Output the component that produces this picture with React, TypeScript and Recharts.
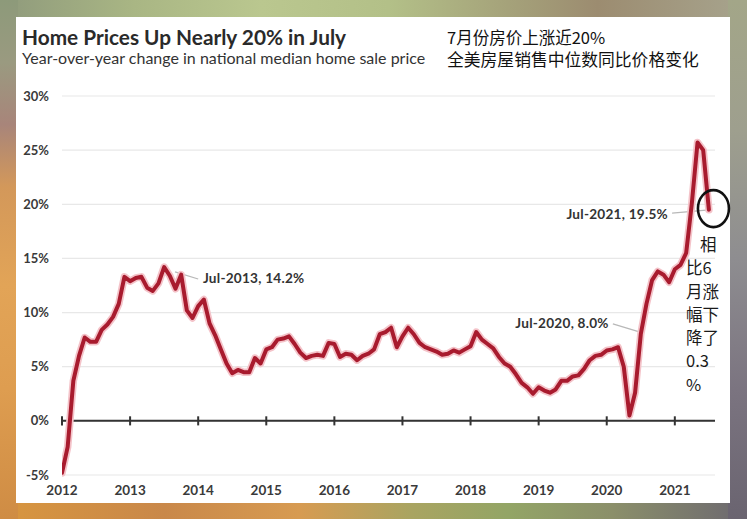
import React from "react";
import {
  LineChart,
  Line,
  XAxis,
  YAxis,
  CartesianGrid,
  ReferenceLine,
  ReferenceDot,
} from "recharts";

// Monthly year-over-year change (%) in national median home sale price
const yoy2012 = [-4.8, -2.4, 3.7, 6.0, 7.7, 7.3, 7.3, 8.4, 8.9, 9.6, 10.8, 13.3];
const yoy2013 = [12.9, 13.2, 13.3, 12.3, 12.0, 12.7, 14.2, 13.4, 12.2, 13.5, 10.2, 9.5];
const yoy2014 = [10.6, 11.2, 9.0, 7.9, 6.6, 5.3, 4.4, 4.7, 4.5, 4.5, 5.8, 5.3];
const yoy2015 = [6.6, 6.8, 7.5, 7.6, 7.8, 7.1, 6.3, 5.8, 6.0, 6.1, 6.0, 7.2];
const yoy2016 = [7.1, 5.9, 6.2, 6.1, 5.6, 6.0, 6.2, 6.6, 8.0, 8.2, 8.6, 6.8];
const yoy2017 = [7.8, 8.6, 8.0, 7.2, 6.8, 6.6, 6.4, 6.1, 6.2, 6.5, 6.3, 6.6];
const yoy2018 = [6.9, 8.2, 7.5, 7.1, 6.7, 5.9, 5.3, 5.0, 4.3, 3.5, 3.1, 2.5];
const yoy2019 = [3.1, 2.8, 2.6, 2.9, 3.7, 3.7, 4.1, 4.2, 4.8, 5.6, 6.0, 6.1];
const yoy2020 = [6.5, 6.6, 6.8, 5.0, 0.5, 2.6, 8.0, 10.8, 13.0, 13.8, 13.5, 12.8];
const yoy2021 = [14.0, 14.4, 15.5, 20.1, 25.7, 25.0, 19.5];

const startYears = [2012, 2013, 2014, 2015, 2016, 2017, 2018, 2019, 2020, 2021];
const yearSeries = [yoy2012, yoy2013, yoy2014, yoy2015, yoy2016, yoy2017, yoy2018, yoy2019, yoy2020, yoy2021];

const yTicks = [-5, 0, 5, 10, 15, 20, 25, 30];
const xTicks = [2012, 2013, 2014, 2015, 2016, 2017, 2018, 2019, 2020, 2021];

const annotations = [
  { label: "Jul-2013, 14.2%", x: 2014.07, y: 13.19, anchor: "start", from: [2013.66, 13.75], to: [2014.0, 13.1] },
  { label: "Jul-2020, 8.0%", x: 2020.03, y: 9.04, anchor: "end", from: [2020.09, 8.95], to: [2020.49, 8.2] },
  { label: "Jul-2021, 19.5%", x: 2020.9, y: 19.1, anchor: "end", from: [2020.96, 19.19], to: [2021.46, 19.46] },
];

const noteLines = ["相", "比6", "月涨", "幅下", "降了", "0.3", "%"];

const data: { t: number; v: number }[] = [];
yearSeries.forEach((arr, yi) => {
  arr.forEach((v, m) => {
    data.push({ t: startYears[yi] + m / 12, v });
  });
});

const FONT = "Lato, 'Noto Sans', sans-serif";
const CJK = "'Noto Sans CJK SC', 'Noto Sans', sans-serif";

export default function App() {
  return (
    <div style={{ position: "fixed", left: 0, top: 0, width: 747, height: 519, overflow: "hidden", background: "#c9a070" }}>
      {/* blurred photo-like border */}
      <div style={{ position: "absolute", left: 0, top: 0, width: 747, height: 20, background: "linear-gradient(90deg, #8f9a7c 0%, #a9b684 18%, #bac78f 35%, #b3c088 52%, #a5a27a 68%, #9c8c70 80%, #a7a48e 100%)" }} />
      <div style={{ position: "absolute", left: 0, top: 500, width: 747, height: 19, background: "linear-gradient(90deg, #d8963f 0%, #c9884a 22%, #d79b52 40%, #a9a461 55%, #93a566 68%, #8b8f6a 82%, #6c6870 100%)" }} />
      <div style={{ position: "absolute", left: 0, top: 0, width: 18, height: 519, background: "linear-gradient(180deg, #8d9a7a 0%, #9a9a80 12%, #a8857a 24%, #d3985a 36%, #e2a457 55%, #de9d50 75%, #cf8c44 100%)" }} />
      <div style={{ position: "absolute", left: 728, top: 0, width: 19, height: 519, background: "linear-gradient(180deg, #a3a688 0%, #9e9f8e 25%, #8e8d90 50%, #7b7480 75%, #6a6470 100%)" }} />
      {/* white panel */}
      <div style={{ position: "absolute", left: 16, top: 17, width: 714, height: 486, background: "#ffffff" }} />

      <div style={{ position: "absolute", left: 0, top: 0 }}>
        <LineChart width={747} height={519} data={data} margin={{ top: 96, right: 32, bottom: 14, left: 12 }}>
          <CartesianGrid horizontal={true} vertical={false} stroke="#e8e8e8" strokeWidth={1.2} />
          <XAxis
            dataKey="t"
            type="number"
            domain={[2012, 2021.59]}
            ticks={xTicks}
            allowDataOverflow
            axisLine={false}
            tickLine={false}
            tickSize={0}
            tickMargin={10}
            height={30}
            tick={{ fill: "#3a3a3a", fontSize: 13.5, fontWeight: 700, fontFamily: FONT }}
          />
          <YAxis
            type="number"
            domain={[-5, 30]}
            ticks={yTicks}
            width={50}
            axisLine={false}
            tickLine={false}
            tickSize={0}
            tickMargin={13}
            tickFormatter={(v: number) => `${v}%`}
            tick={{ fill: "#3a3a3a", fontSize: 13, fontWeight: 700, fontFamily: FONT }}
          />
          <ReferenceLine y={0} stroke="#333333" strokeWidth={2} />
          {xTicks.map((yr) => (
            <ReferenceLine
              key={"tick" + yr}
              segment={[{ x: yr, y: -0.42 }, { x: yr, y: 0.42 }]}
              stroke="#333333"
              strokeWidth={2}
              ifOverflow="visible"
            />
          ))}
          {annotations.map((a) => (
            <ReferenceLine
              key={"lead" + a.label}
              segment={[{ x: a.from[0], y: a.from[1] }, { x: a.to[0], y: a.to[1] }]}
              stroke="#b8b8b8"
              strokeWidth={1.3}
              ifOverflow="visible"
            />
          ))}
          <Line
            type="linear"
            dataKey="v"
            stroke="#f4c3c9"
            strokeWidth={7.5}
            dot={false}
            activeDot={false}
            isAnimationActive={false}
            strokeLinejoin="round"
            strokeLinecap="round"
          />
          <Line
            type="linear"
            dataKey="v"
            stroke="#a81b2e"
            strokeWidth={4}
            dot={false}
            activeDot={false}
            isAnimationActive={false}
            strokeLinejoin="round"
            strokeLinecap="round"
          />
          {annotations.map((a) => (
            <ReferenceDot
              key={"txt" + a.label}
              x={a.x}
              y={a.y}
              r={0}
              ifOverflow="visible"
              shape={(p: any) => (
                <text
                  x={p.cx}
                  y={p.cy}
                  textAnchor={a.anchor as any}
                  dominantBaseline="central"
                  fill="#333333"
                  fontSize={13.6}
                  fontWeight={700}
                  fontFamily={FONT}
                  letterSpacing={0.25}
                >
                  {a.label}
                </text>
              )}
            />
          ))}
          <ReferenceDot
            x={2021.567}
            y={19.6}
            r={0}
            ifOverflow="visible"
            shape={(p: any) => (
              <ellipse cx={p.cx} cy={p.cy} rx={15.5} ry={18.5} fill="none" stroke="#111111" strokeWidth={2.6} />
            )}
          />
        </LineChart>
      </div>

      {/* Titles */}
      <div style={{ position: "absolute", left: 22, top: 26, fontFamily: FONT, fontWeight: 700, fontSize: 20.8, lineHeight: "22px", color: "#2a2a2a", whiteSpace: "nowrap" }}>
        Home Prices Up Nearly 20% in July
      </div>
      <div style={{ position: "absolute", left: 22, top: 49, fontFamily: FONT, fontWeight: 400, fontSize: 16, lineHeight: "18px", color: "#333333", whiteSpace: "nowrap" }}>
        Year-over-year change in national median home sale price
      </div>
      <div style={{ position: "absolute", left: 447, top: 27, fontFamily: CJK, fontSize: 16.5, lineHeight: "20px", color: "#111111", whiteSpace: "nowrap" }}>
        7月份房价上涨近20%
      </div>
      <div style={{ position: "absolute", left: 447, top: 49, fontFamily: CJK, fontSize: 16.8, lineHeight: "20px", color: "#111111", whiteSpace: "nowrap" }}>
        全美房屋销售中位数同比价格变化
      </div>

      {/* Vertical note */}
      <div style={{ position: "absolute", left: 686, top: 233, fontFamily: CJK, fontSize: 16.5, lineHeight: "23.3px", color: "#1a1a1a", whiteSpace: "nowrap" }}>
        {noteLines.map((s, i) => (
          <div key={i} style={{ paddingLeft: i === 0 ? 14 : 0 }}>{s}</div>
        ))}
      </div>
    </div>
  );
}
